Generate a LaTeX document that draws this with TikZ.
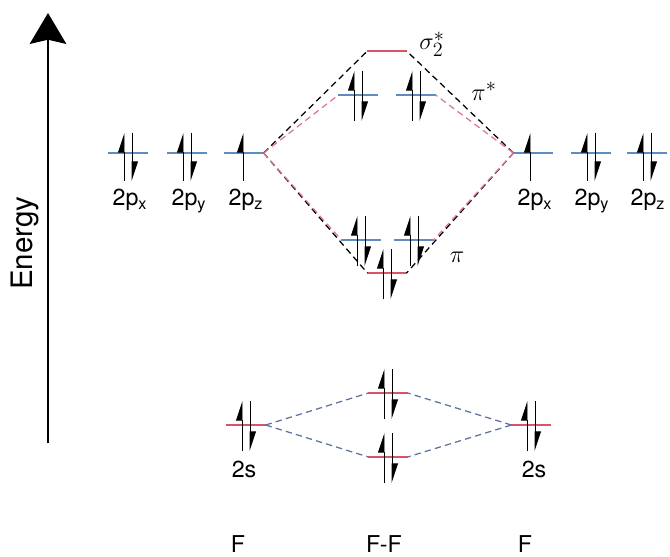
\documentclass[tikz,border=0pt]{standalone}
\usepackage{fontspec}
\setmainfont{TeX Gyre Heros}
\usepackage{tikz}
\usetikzlibrary{arrows.meta}
\definecolor{lvlblue}{RGB}{95,140,190}
\definecolor{lvlred}{RGB}{215,85,105}
\definecolor{dashred}{RGB}{222,120,140}
\definecolor{dashblue}{RGB}{95,115,160}

\begin{document}
\begin{tikzpicture}[x=0.025cm,y=-0.025cm,font=\fontsize{16.5}{20}\selectfont,
 lvl/.style={minimum width=0.98cm,minimum height=0pt,inner sep=0pt,outer sep=0pt},
 elec/.style={line width=0.65pt,-{Triangle[left,length=13pt,width=8.5pt]}},
 mo/.style={dash pattern=on 4.5pt off 3pt,line width=0.9pt},
 lab/.style={inner sep=0pt,anchor=base},
 sym/.style={font=\fontsize{19}{22}\selectfont}]
\useasboundingbox (0,0) rectangle (670,557);

% energy axis
\coordinate (ebot) at (48,443);
\coordinate (etop) at (48,13);
\draw[line width=1pt,-{Stealth[length=22pt,width=26pt,inset=3pt]}] (ebot) -- (etop);
\node[rotate=90,font=\fontsize{21}{25}\selectfont] (elab) at (25,243) {Energy};

% atomic levels
\node[lvl] (lpx) at (128,153) {};
\node[lvl] (lpy) at (187,153) {};
\node[lvl] (lpz) at (244,153) {};
\node[lvl] (rpx) at (533,153) {};
\node[lvl] (rpy) at (591,153) {};
\node[lvl] (rpz) at (647,153) {};
\node[lvl] (l2s) at (246,425) {};
\node[lvl] (r2s) at (531,425) {};

% molecular levels
\node[lvl] (sgs) at (387,51) {};
\node[lvl] (pis1) at (358,95) {};
\node[lvl] (pis2) at (416,95) {};
\node[lvl] (pi1) at (361,240) {};
\node[lvl] (pi2) at (414,240) {};
\node[lvl] (sg) at (387,273) {};
\node[lvl] (ss2) at (388,393) {};
\node[lvl] (s2) at (388,457) {};

\foreach \n in {lpx,lpy,lpz,rpx,rpy,rpz,pis1,pis2,pi1,pi2}
  \draw[lvlblue,line width=0.8pt] (\n.west) -- (\n.east);
\foreach \n in {l2s,r2s,sgs,sg,ss2,s2}
  \draw[lvlred,line width=0.8pt] (\n.west) -- (\n.east);

% correlation lines
\draw[mo] (lpz.east) -- (sgs.west);
\draw[mo] (lpz.east) -- (sg.west);
\draw[mo] (rpx.west) -- (sgs.east);
\draw[mo] (rpx.west) -- (sg.east);
\draw[mo,dashred] (lpz.east) -- (pis1.west);
\draw[mo,dashred] (lpz.east) -- (pi1.west);
\draw[mo,dashred] (rpx.west) -- (pis2.east);
\draw[mo,dashred] (rpx.west) -- (pi2.east);
\draw[mo,dashblue] (l2s.east) -- (ss2.west);
\draw[mo,dashblue] (l2s.east) -- (s2.west);
\draw[mo,dashblue] (r2s.west) -- (ss2.east);
\draw[mo,dashblue] (r2s.west) -- (s2.east);

% electrons, atomic 2p
\foreach \n in {lpx,lpy,rpy,rpz}{
  \draw[elec] ([shift={(-4,28)}]\n.center) -- ++(0,-48);
  \draw[elec] ([shift={(4,-20)}]\n.center) -- ++(0,48);
}
\draw[elec] ([shift={(-1,28)}]lpz.center) -- ++(0,-48);
\draw[elec] ([shift={(-3,28)}]rpx.center) -- ++(0,-48);

% electrons, paired levels
\foreach \n in {pis1,pis2,pi1,pi2,sg,l2s,r2s,ss2,s2}{
  \draw[elec] ([shift={(-4,26)}]\n.center) -- ++(0,-50);
  \draw[elec] ([shift={(4,-24)}]\n.center) -- ++(0,50);
}

% labels
\node[lab] (tlpx) at (130,206) {2p\textsubscript{x}};
\node[lab] (tlpy) at (189,206) {2p\textsubscript{y}};
\node[lab] (tlpz) at (246,206) {2p\textsubscript{z}};
\node[lab] (trpx) at (535,206) {2p\textsubscript{x}};
\node[lab] (trpy) at (592,206) {2p\textsubscript{y}};
\node[lab] (trpz) at (648,206) {2p\textsubscript{z}};
\node[lab] (tl2s) at (244,477) {2s};
\node[lab] (tr2s) at (534,477) {2s};
\node[sym] (tsgs) at (432,44) {$\sigma_2^*$};
\node[sym] (tpis) at (484,91) {$\pi^*$};
\node[sym] (tpi) at (457,257) {$\pi$};
\node[lab] (fl) at (238,552) {F};
\node[lab] (ff) at (384,552) {F-F};
\node[lab] (fr) at (525,552) {F};
\end{tikzpicture}
\end{document}
